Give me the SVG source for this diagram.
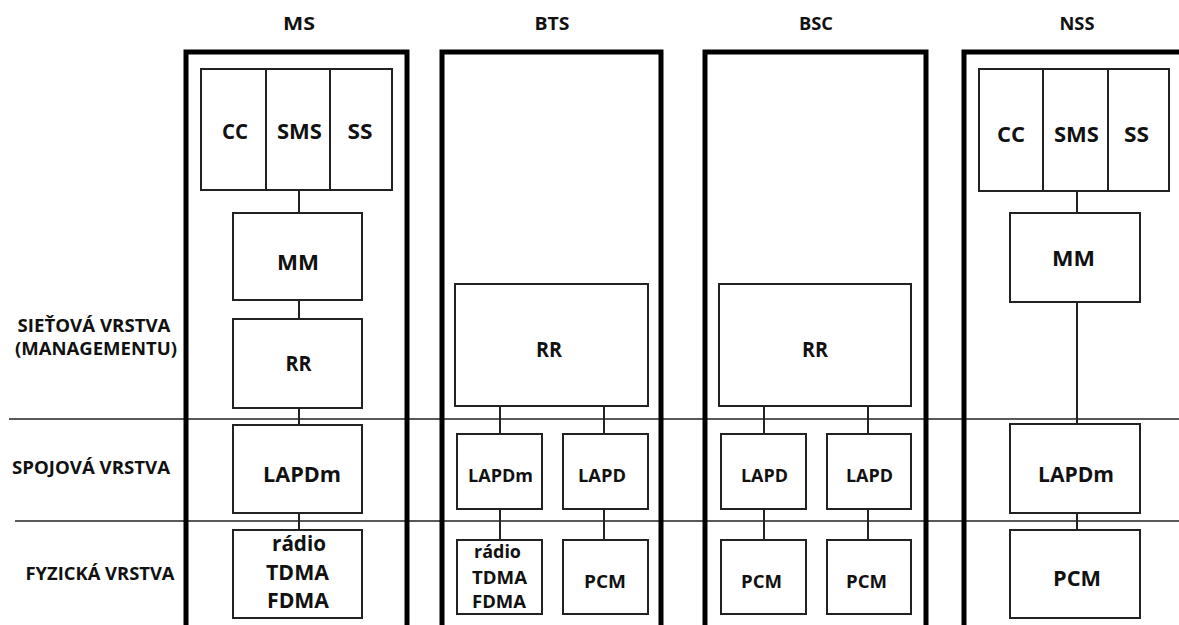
<svg xmlns="http://www.w3.org/2000/svg" width="1179" height="625" viewBox="0 0 1179 625">
<style>
.col{fill:none;stroke:#000;stroke-width:5}
.box{fill:#fff;stroke:#222;stroke-width:2}
.ln{stroke:#222;stroke-width:2;fill:none}
.lay{stroke:#222;stroke-width:1.6;fill:none}
text{font-family:"Open Sans",Lato,"DejaVu Sans",sans-serif;font-weight:bold;fill:#111;text-anchor:middle}
.h{font-size:17px}
.lbl{font-size:17px}
.b{font-size:21px}
.s{font-size:18px}
</style>
<rect width="1179" height="625" fill="#fff"/>
<g id="layers">
<line class="lay" x1="9" y1="419" x2="1179" y2="419"/>
<line class="lay" x1="15" y1="521" x2="1179" y2="521"/>
<text class="lbl" x="94" y="332" textLength="153" lengthAdjust="spacingAndGlyphs">SIEŤOVÁ VRSTVA</text>
<text class="lbl" x="96" y="355" textLength="162" lengthAdjust="spacingAndGlyphs">(MANAGEMENTU)</text>
<text class="lbl" x="91" y="474" textLength="158" lengthAdjust="spacingAndGlyphs">SPOJOVÁ VRSTVA</text>
<text class="lbl" x="100" y="580" textLength="149" lengthAdjust="spacingAndGlyphs">FYZICKÁ VRSTVA</text>
</g>
<g id="connectors">
<path class="ln" d="M299 190V213M299 300V319M299 408V425M299 513V530"/>
<path class="ln" d="M500 406V434M500 509V540M604 406V434M604 509V540"/>
<path class="ln" d="M764 406V434M764 509V540M868 406V434M868 509V540"/>
<path class="ln" d="M1077 191V213M1077 302V424M1077 513V530"/>
</g>
<g id="MS">
<path class="col" d="M186 625V52H407V625"/>
<text class="h" x="299" y="30" textLength="32" lengthAdjust="spacingAndGlyphs">MS</text>
<g id="ms-top">
<rect class="box" x="201" y="69" width="191" height="121"/>
<line class="ln" x1="266" y1="69" x2="266" y2="190"/>
<line class="ln" x1="330" y1="69" x2="330" y2="190"/>
<text class="b" x="235" y="139" textLength="26" lengthAdjust="spacingAndGlyphs">CC</text>
<text class="b" x="299.5" y="139" textLength="45" lengthAdjust="spacingAndGlyphs">SMS</text>
<text class="b" x="360" y="139" textLength="25" lengthAdjust="spacingAndGlyphs">SS</text>
</g>
<g id="ms-mm"><rect class="box" x="233" y="213" width="129" height="87"/><text class="b" x="298" y="270" textLength="42" lengthAdjust="spacingAndGlyphs">MM</text></g>
<g id="ms-rr"><rect class="box" x="233" y="319" width="129" height="89"/><text class="b" x="298.5" y="371" textLength="26" lengthAdjust="spacingAndGlyphs">RR</text></g>
<g id="ms-lapdm"><rect class="box" x="233" y="425" width="129" height="88"/><text class="b" x="302" y="482" textLength="78" lengthAdjust="spacingAndGlyphs">LAPDm</text></g>
<g id="ms-radio"><rect class="box" x="233" y="530" width="129" height="88"/>
<text class="b" x="299" y="551" textLength="54" lengthAdjust="spacingAndGlyphs">rádio</text>
<text class="b" x="297.5" y="580" textLength="63" lengthAdjust="spacingAndGlyphs">TDMA</text>
<text class="b" x="298" y="608" textLength="62" lengthAdjust="spacingAndGlyphs">FDMA</text></g>
</g>
<g id="BTS">
<path class="col" d="M442 625V52H661V625"/>
<text class="h" x="552" y="30" textLength="35" lengthAdjust="spacingAndGlyphs">BTS</text>
<g id="bts-rr"><rect class="box" x="455" y="284" width="193" height="122"/><text class="b" x="549" y="357" textLength="26" lengthAdjust="spacingAndGlyphs">RR</text></g>
<g id="bts-lapdm"><rect class="box" x="457" y="434" width="85" height="75"/><text class="s" x="500.5" y="482" textLength="65" lengthAdjust="spacingAndGlyphs">LAPDm</text></g>
<g id="bts-lapd"><rect class="box" x="563" y="434" width="85" height="75"/><text class="s" x="602" y="482" textLength="48" lengthAdjust="spacingAndGlyphs">LAPD</text></g>
<g id="bts-radio"><rect class="box" x="457" y="540" width="85" height="74"/>
<text class="s" x="497.5" y="558" textLength="47" lengthAdjust="spacingAndGlyphs">rádio</text>
<text class="s" x="499.5" y="584" textLength="55" lengthAdjust="spacingAndGlyphs">TDMA</text>
<text class="s" x="499" y="608" textLength="54" lengthAdjust="spacingAndGlyphs">FDMA</text></g>
<g id="bts-pcm"><rect class="box" x="563" y="540" width="85" height="74"/><text class="s" x="605" y="588" textLength="42" lengthAdjust="spacingAndGlyphs">PCM</text></g>
</g>
<g id="BSC">
<path class="col" d="M705 625V52H926V625"/>
<text class="h" x="816" y="30" textLength="34" lengthAdjust="spacingAndGlyphs">BSC</text>
<g id="bsc-rr"><rect class="box" x="719" y="284" width="192" height="122"/><text class="b" x="815" y="357" textLength="26" lengthAdjust="spacingAndGlyphs">RR</text></g>
<g id="bsc-lapd1"><rect class="box" x="721" y="434" width="85" height="75"/><text class="s" x="764.5" y="482" textLength="47" lengthAdjust="spacingAndGlyphs">LAPD</text></g>
<g id="bsc-lapd2"><rect class="box" x="827" y="434" width="84" height="75"/><text class="s" x="869.5" y="482" textLength="47" lengthAdjust="spacingAndGlyphs">LAPD</text></g>
<g id="bsc-pcm1"><rect class="box" x="721" y="540" width="85" height="74"/><text class="s" x="761.5" y="588" textLength="41" lengthAdjust="spacingAndGlyphs">PCM</text></g>
<g id="bsc-pcm2"><rect class="box" x="827" y="540" width="84" height="74"/><text class="s" x="866.5" y="588" textLength="41" lengthAdjust="spacingAndGlyphs">PCM</text></g>
</g>
<g id="NSS">
<path class="col" d="M964 625V52H1185"/>
<text class="h" x="1077" y="30" textLength="35" lengthAdjust="spacingAndGlyphs">NSS</text>
<g id="nss-top">
<rect class="box" x="979" y="69" width="190" height="122"/>
<line class="ln" x1="1043" y1="69" x2="1043" y2="191"/>
<line class="ln" x1="1108" y1="69" x2="1108" y2="191"/>
<text class="b" x="1011" y="142" textLength="28" lengthAdjust="spacingAndGlyphs">CC</text>
<text class="b" x="1076.5" y="142" textLength="45" lengthAdjust="spacingAndGlyphs">SMS</text>
<text class="b" x="1136.5" y="142" textLength="25" lengthAdjust="spacingAndGlyphs">SS</text>
</g>
<g id="nss-mm"><rect class="box" x="1010" y="213" width="130" height="89"/><text class="b" x="1073.5" y="266" textLength="43" lengthAdjust="spacingAndGlyphs">MM</text></g>
<g id="nss-lapdm"><rect class="box" x="1010" y="424" width="130" height="89"/><text class="b" x="1076" y="482" textLength="76" lengthAdjust="spacingAndGlyphs">LAPDm</text></g>
<g id="nss-pcm"><rect class="box" x="1010" y="530" width="130" height="88"/><text class="b" x="1077" y="586" textLength="48" lengthAdjust="spacingAndGlyphs">PCM</text></g>
</g>
</svg>
